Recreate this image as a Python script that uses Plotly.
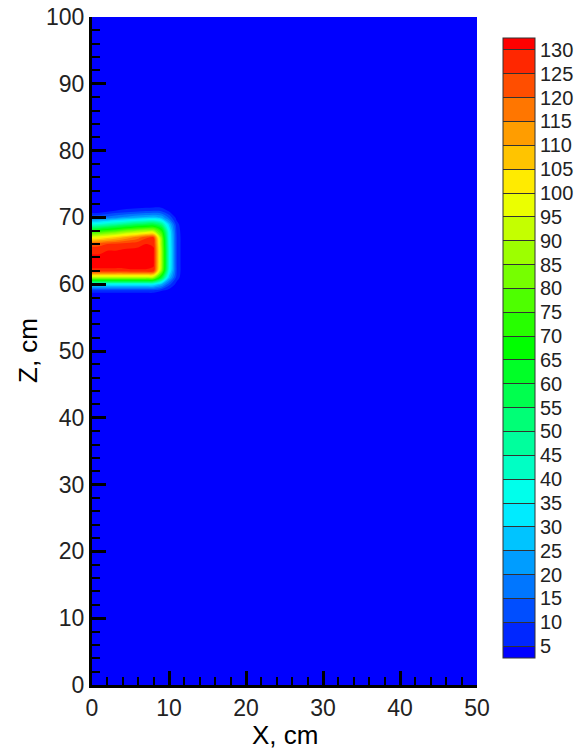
import colorsys

import numpy as np
import plotly.graph_objects as go

# Grid of the heated zone (cm) and the field values on it
x_cm = [0, 1, 2, 3, 4, 5, 6, 7, 8, 9, 10, 11, 12, 13]
z_cm = [57, 58, 59, 60, 61, 62, 63, 64, 65, 66, 67, 68, 69, 70, 71, 72, 73]

field_rows = [
    [0, 0, 0, 0, 0, 0, 0, 0, 0, 0, 0, 0, 0, 0],                              # z = 57
    [0, 0, 0, 0, 0, 0, 0, 0, 0, 0, 0, 0, 0, 0],                              # z = 58
    [7, 7, 7, 7, 7, 7, 7, 7, 7, 5, 2, 0, 0, 0],                              # z = 59
    [35, 35, 35, 35, 35, 35, 35, 35, 34, 26, 12, 3, 0, 0],                   # z = 60
    [90, 90, 90, 90, 90, 90, 90, 90, 88, 62, 28, 8, 0, 0],                   # z = 61
    [128, 128, 128, 128, 128, 129, 129, 129, 128, 86, 38, 10, 0, 0],         # z = 62
    [133, 133, 133, 133, 133, 133, 133, 133, 131, 90, 40, 10, 0, 0],         # z = 63
    [131, 131, 132, 132, 132, 133, 133, 133, 131, 90, 40, 10, 0, 0],         # z = 64
    [129, 129, 130, 130, 131, 131, 131, 132, 131, 90, 40, 10, 0, 0],         # z = 65
    [122, 123, 125, 126, 127, 128, 129, 130, 129, 88, 39, 10, 0, 0],         # z = 66
    [98, 100, 103, 106, 110, 114, 118, 124, 125, 85, 38, 10, 0, 0],         # z = 67
    [68, 70, 73, 76, 80, 83, 86, 88, 88, 72, 36, 9, 0, 0],                   # z = 68
    [38, 40, 43, 46, 49, 52, 55, 57, 58, 50, 28, 7, 0, 0],                   # z = 69
    [14, 15, 17, 19, 21, 23, 25, 26, 27, 24, 14, 3, 0, 0],                   # z = 70
    [0, 1, 3, 5, 6, 7, 8, 9, 10, 9, 4, 0, 0, 0],                             # z = 71
    [0, 0, 0, 0, 0, 0, 0, 0, 0, 0, 0, 0, 0, 0],                              # z = 72
    [0, 0, 0, 0, 0, 0, 0, 0, 0, 0, 0, 0, 0, 0],                              # z = 73
]

# Far field of the domain (value 0) out to the domain edges
domain_x_max = 50
domain_z_max = 100

contour_levels = [5, 10, 15, 20, 25, 30, 35, 40, 45, 50, 55, 60, 65,
                  70, 75, 80, 85, 90, 95, 100, 105, 110, 115, 120, 125, 130]
x_ticks = [0, 10, 20, 30, 40, 50]
z_ticks = [0, 10, 20, 30, 40, 50, 60, 70, 80, 90, 100]

# Full grid: pad the heated zone with a zero rim reaching the domain edges
x_full = x_cm + [domain_x_max]
z_full = [0] + z_cm + [domain_z_max]
field = np.pad(np.array(field_rows, dtype=float), ((1, 1), (0, 1)), constant_values=0.0)

# Rainbow palette, one colour per filled band (below first level ... above last level)
n_bands = len(contour_levels) + 1
colorscale = []
for k in range(n_bands):
    hue = 240.0 * (1 - k / (n_bands - 1)) / 360.0
    r, g, b = colorsys.hsv_to_rgb(hue, 1.0, 1.0)
    colorscale.append([k / (n_bands - 1), f"rgb({round(r*255)},{round(g*255)},{round(b*255)})"])

step = contour_levels[1] - contour_levels[0]

# Plot box in pixels
L, R, T, B = 92, 477, 17, 685
W, H = R - L, B - T

fig = go.Figure(
    go.Contour(
        x=x_full,
        y=z_full,
        z=field,
        colorscale=colorscale,
        autocontour=False,
        contours=dict(start=contour_levels[0], end=contour_levels[-1], size=step,
                      coloring="fill", showlines=False),
        line=dict(width=0),
        hoverinfo="skip",
        colorbar=dict(
            thickness=32, thicknessmode="pixels",
            len=620, lenmode="pixels",
            x=(503 - L) / W, xanchor="left", xpad=0,
            y=(B - 38) / H, yanchor="top", ypad=0,
            outlinewidth=1, outlinecolor="#333333",
            tickmode="array", tickvals=contour_levels,
            ticks="inside", ticklen=32, tickwidth=1, tickcolor="#333333",
            tickprefix="\u00a0\u00a0",
            tickfont=dict(size=20, color="#222222", family="Liberation Sans, Arial"),
        ),
    )
)

axis_common = dict(
    showgrid=False, zeroline=False,
    showline=True, linewidth=3, linecolor="black", mirror=False,
    ticks="inside", ticklen=14, tickwidth=3, tickcolor="black",
    tickfont=dict(size=23, color="#222222", family="Liberation Sans, Arial"),
    minor=dict(ticks="inside", dtick=2, ticklen=8, tickwidth=2, tickcolor="black"),
)

fig.update_xaxes(range=[0, domain_x_max], tickmode="array", tickvals=x_ticks, **axis_common)
fig.update_yaxes(range=[0, domain_z_max], tickmode="array", tickvals=z_ticks, **axis_common)

fig.update_layout(
    width=587, height=752,
    margin=dict(l=L, r=587 - R, t=T, b=752 - B, autoexpand=False),
    paper_bgcolor="white",
    plot_bgcolor="rgb(0,0,255)",
    font=dict(family="Liberation Sans, Arial", color="black"),
    showlegend=False,
    annotations=[
        dict(text="X, cm", xref="paper", yref="paper", x=0.5, y=(B - 735) / H,
             xanchor="center", yanchor="middle", showarrow=False,
             font=dict(size=26, color="black")),
        dict(text="Z, cm", xref="paper", yref="paper", x=(28 - L) / W, y=0.5,
             xanchor="center", yanchor="middle", showarrow=False, textangle=-90,
             font=dict(size=26, color="black")),
    ],
)

fig.write_html("out.html")
